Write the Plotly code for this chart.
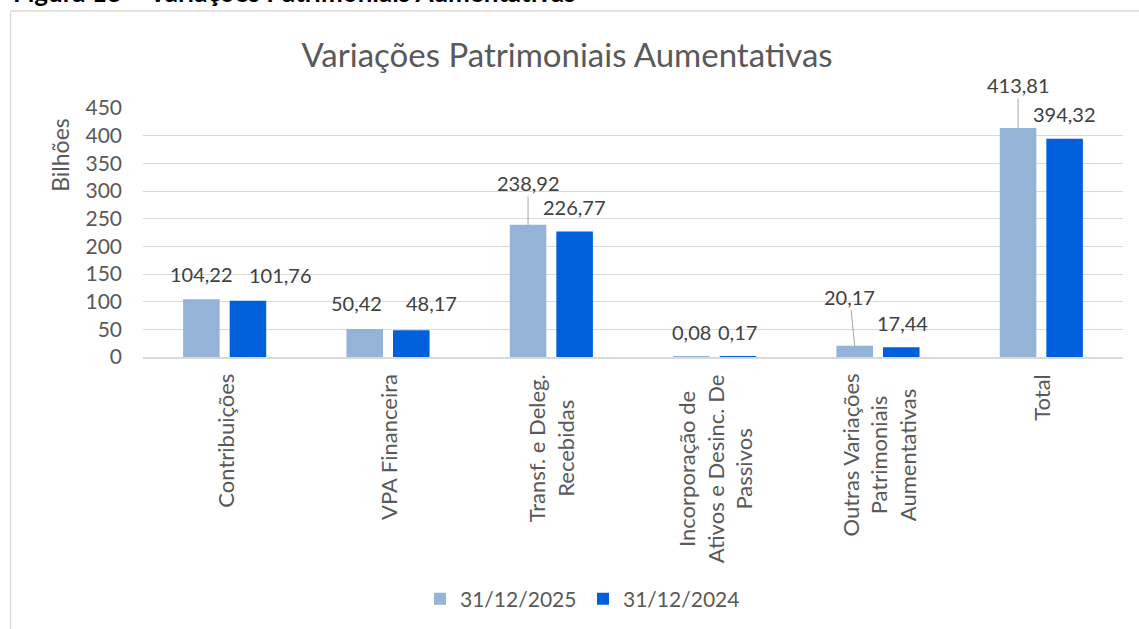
import plotly.graph_objects as go

# dados (bilhões)
categorias = [
    "Contribuições",
    "VPA Financeira",
    "Transf. e Deleg.<br>Recebidas",
    "Incorporação de<br>Ativos e Desinc. De<br>Passivos",
    "Outras Variações<br>Patrimoniais<br>Aumentativas",
    "Total",
]
serie_2025 = [104.22, 50.42, 238.92, 0.08, 20.17, 413.81]
serie_2024 = [101.76, 48.17, 226.77, 0.17, 17.44, 394.32]
nomes = ["31/12/2025", "31/12/2024"]
y_ticks = [0, 50, 100, 150, 200, 250, 300, 350, 400, 450]

COR_CLARA = "#95B3D7"
COR_ESCURA = "#005FDB"
TXT = "#595959"
GRID = "#D9D9D9"
FONTE = "Lato"

BARGAP = 0.43
# deslocamento dos rótulos (px) em relação ao topo da barra; lider = linha guia
rot_2025 = [(0, -25, False), (-8, -26, False), (0, -42, True),
            (0, -25, False), (-5, -49, True), (0, -43, True)]
rot_2024 = [(33, -26, False), (20, -27, False), (0, -25, False),
            (0, -25, False), (1, -24, False), (0, -25, False)]


def fmt(v):
    return f"{v:.2f}".replace(".", ",")


def px_x(p):
    return (p - 143) / 980


def px_y(p):
    return (358 - p) / 250


fig = go.Figure()
fig.add_trace(go.Bar(x=categorias, y=serie_2025, name=nomes[0],
                     marker=dict(color=COR_CLARA, line=dict(width=0))))
fig.add_trace(go.Bar(x=categorias, y=serie_2024, name=nomes[1],
                     marker=dict(color=COR_ESCURA, line=dict(width=0))))

anotacoes = []
desloc = (1 - BARGAP) / 4
for serie, rots, sinal in [(serie_2025, rot_2025, -1), (serie_2024, rot_2024, 1)]:
    for i, (v, (ax, ay, lider)) in enumerate(zip(serie, rots)):
        anotacoes.append(dict(
            x=i + sinal * desloc, y=v, xref="x", yref="y",
            text=fmt(v), showarrow=True, ax=ax, ay=ay,
            arrowhead=0, arrowwidth=1, standoff=0,
            arrowcolor="#A6A6A6" if lider else "rgba(0,0,0,0)",
            font=dict(family=FONTE, size=20, color="#404040"),
        ))

# rótulos das categorias (rotacionados, alinhados ao centro)
for i, c in enumerate(categorias):
    anotacoes.append(dict(
        x=i, y=0, xref="x", yref="paper", text=c, showarrow=False,
        textangle=-90, xanchor="center", yanchor="top", yshift=-15,
        align="center", font=dict(family=FONTE, size=22, color=TXT),
    ))

# título do eixo y
anotacoes.append(dict(
    x=px_x(60), y=px_y(155), xref="paper", yref="paper", text="Bilhões",
    showarrow=False, textangle=-90, xanchor="center", yanchor="middle",
    font=dict(family=FONTE, size=23, color=TXT),
))

# legenda da figura (cortada no topo)
anotacoes.append(dict(
    x=px_x(11), y=px_y(10), xref="paper", yref="paper",
    text="<b>Figura 13 – Variações Patrimoniais Aumentativas</b>",
    showarrow=False, xanchor="left", yanchor="bottom",
    font=dict(family=FONTE, size=26, color="#000000"),
))

fig.update_layout(
    width=1139, height=629,
    margin=dict(l=143, r=16, t=108, b=271),
    paper_bgcolor="white", plot_bgcolor="white",
    font=dict(family=FONTE, size=20, color=TXT),
    title=dict(text="Variações Patrimoniais Aumentativas",
               x=px_x(567), xref="paper", xanchor="center",
               y=1 - 55 / 629, yref="container", yanchor="middle",
               font=dict(family=FONTE, size=33, color=TXT)),
    barmode="group", bargap=BARGAP, bargroupgap=0.215,
    showlegend=True,
    legend=dict(orientation="h", x=px_x(420), xanchor="left",
                y=px_y(599), yanchor="middle",
                font=dict(family=FONTE, size=21, color=TXT),
                entrywidth=118, entrywidthmode="pixels",
                traceorder="normal"),
    annotations=anotacoes,
    shapes=[
        dict(type="line", xref="paper", yref="paper",
             x0=px_x(10.5), x1=px_x(1200), y0=px_y(10.5), y1=px_y(10.5),
             line=dict(color=GRID, width=1.5), layer="below"),
        dict(type="line", xref="paper", yref="paper",
             x0=px_x(10.5), x1=px_x(10.5), y0=px_y(10.5), y1=px_y(700),
             line=dict(color=GRID, width=1.5), layer="below"),
    ],
)
fig.update_xaxes(showticklabels=False, showline=True, linecolor=GRID,
                 linewidth=1.5, showgrid=False, ticks="")
fig.update_yaxes(range=[0, 450], tickvals=y_ticks, showgrid=True,
                 gridcolor=GRID, gridwidth=1, zeroline=False,
                 ticklabelstandoff=20,
                 tickfont=dict(family=FONTE, size=21, color=TXT))

fig.write_html("out.html", config={"displayModeBar": False},
               post_script="document.body.style.margin='0';"
                           "document.body.style.overflow='hidden';"
                           "document.documentElement.style.overflow='hidden';")
